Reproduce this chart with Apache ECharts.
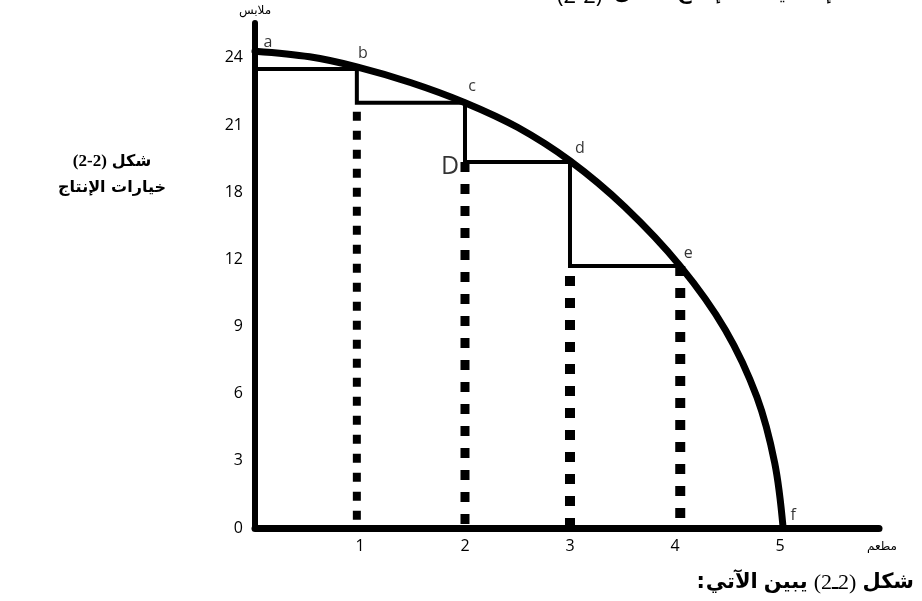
<!DOCTYPE html>
<html><head><meta charset="utf-8">
<script src="https://cdn.jsdelivr.net/npm/echarts@6/dist/echarts.min.js"></script>
<style>html,body{margin:0;padding:0;background:#fff}#c{width:922px;height:601px}</style>
</head><body><div id="c"></div>
<script>
// ---- data ----
const pointNames = ['a', 'b', 'c', 'd', 'e', 'f'];
const foodX = [0, 0.97, 2, 3, 4.05, 5.03];            // مطعم
const clothesY = [24.3, 23.5, 22, 19.35, 11.7, 0];    // ملابس
// points
const curveX = [0, 0.52, 0.97, 1.48, 2, 2.5, 3, 3.52, 4.05, 4.48, 4.78, 4.95, 5.03];
const curveY = [24.3, 24.05, 23.6, 22.9, 22.0, 20.9, 19.4, 16.7, 11.7, 8.85, 5.85, 2.9, 0];
// staircase between the points
const stepX = [0, 0.97, 0.97, 2, 2, 3, 3, 4.05];
const stepY = [23.5, 23.5, 22, 22, 19.35, 19.35, 11.7, 11.7];
// dotted drops to the horizontal axis
const dropX = [0.97, 2, 3, 4.05];
const dropTop = [22, 19.35, 11.7, 11.7];
// tick labels
const yTicks = [0, 3, 6, 9, 12, 18, 21, 24];
const xTicks = [1, 2, 3, 4, 5];

// the vertical axis places its labels evenly, so values are mapped to label slots
function toAxis(v) {
  for (let i = 0; i < yTicks.length - 1; i++) {
    if (v <= yTicks[i + 1]) return i + (v - yTicks[i]) / (yTicks[i + 1] - yTicks[i]);
  }
  const n = yTicks.length - 1;
  return n + (v - yTicks[n]) / (yTicks[n] - yTicks[n - 1]);
}

const AR = '"DejaVu Sans"';
const LAT = '"Open Sans", "DejaVu Sans", sans-serif';

// ---- text rows laid out word by word (visual left-to-right order) ----
const mctx = document.createElement('canvas').getContext('2d');
function wordRow(words, x, y, align) {
  words.forEach(w => { mctx.font = w.font; w.w = mctx.measureText(w.t).width; });
  const total = words.reduce((s, w, i) => s + w.w + (i ? (w.gap || 0) : 0), 0);
  let cx = align === 'right' ? x - total : align === 'center' ? x - total / 2 : x;
  return words.map((w, i) => {
    if (i) cx += (w.gap || 0);
    const el = { type: 'text', x: cx, y: y + (w.dy || 0), silent: true,
      style: { text: w.t, font: w.font, fill: '#000', align: 'left', verticalAlign: 'middle' } };
    cx += w.w;
    return el;
  });
}

const labelOffsets = { a: [13, -9], b: [6, -16], c: [7, -16], d: [10, -14], e: [8, -13], f: [10, -13] };

const series = [];
series.push({
  type: 'line', data: curveX.map((x, i) => [x, toAxis(curveY[i])]),
  smooth: 0.35, symbol: 'none', silent: true,
  lineStyle: { color: '#000', width: 7, cap: 'round' }, z: 5
});
series.push({
  type: 'line', data: stepX.map((x, i) => [x, toAxis(stepY[i])]),
  symbol: 'none', silent: true,
  lineStyle: { color: '#000', width: 4, join: 'miter' }, z: 4
});
const dropStyles = [
  { width: 8, type: [9, 10], dashOffset: 10 },
  { width: 9, type: [10, 12], dashOffset: 0 },
  { width: 10, type: [10, 12], dashOffset: 12 },
  { width: 10, type: [10, 12], dashOffset: 0 }
];
dropX.forEach((x, i) => {
  series.push({
    type: 'line', data: [[x, toAxis(dropTop[i])], [x, 0]],
    symbol: 'none', silent: true,
    lineStyle: Object.assign({ color: '#000', cap: 'butt' }, dropStyles[i]), z: 3
  });
});
series.push({
  type: 'scatter', symbolSize: 0, silent: true, z: 6,
  data: pointNames.map((n, i) => ({
    name: n, value: [foodX[i], toAxis(clothesY[i])],
    label: { offset: labelOffsets[n] }
  })).concat([{
    name: 'D', value: [foodX[2], toAxis(clothesY[3])],
    label: { offset: [-15, 5], fontSize: 25 }
  }]),
  label: {
    show: true, position: 'inside', formatter: p => p.name,
    color: '#000', fontFamily: LAT, fontSize: 16, align: 'center', verticalAlign: 'middle'
  }
});

const AB16 = 'bold 16px ' + AR;
const AB20 = 'bold 20px ' + AR;
const AB21 = 'bold 21px ' + AR;
const SER22 = '22px "Liberation Serif", serif';
const graphics = [
  { type: 'text', x: 255, y: 11, silent: true, style: { text: 'ملابس', font: '12px ' + AR, fill: '#000', align: 'center', verticalAlign: 'middle' } },
  { type: 'text', x: 882, y: 547, silent: true, style: { text: 'مطعم', font: '12px ' + AR, fill: '#000', align: 'center', verticalAlign: 'middle' } },
  { type: 'text', x: 112, y: 188, silent: true, style: { text: 'خيارات الإنتاج', font: AB16, fill: '#000', align: 'center', verticalAlign: 'middle' } }
].concat(
  wordRow([
    { t: '(2-2)', font: 'bold 17px "Liberation Serif", serif' },
    { t: 'شكل', font: AB16, gap: 5 }
  ], 112, 162, 'center'),
  wordRow([
    { t: '(2-2)', font: '22px ' + LAT, dy: 0 },
    { t: 'شكل', font: AB20, gap: 12, dy: -3 },
    { t: 'الإنتاج', font: AB20, gap: 14, dy: -3 },
    { t: 'إمكانيات', font: AB20, gap: 14, dy: -3 }
  ], 557, -3, 'left'),
  wordRow([
    { t: ':', font: AB21 },
    { t: 'الآتي', font: AB21, gap: 1 },
    { t: 'يبين', font: AB21, gap: 6 },
    { t: '(2', font: SER22, gap: 6 },
    { t: 'ـ', font: SER22, gap: 0 },
    { t: '2)', font: SER22, gap: 0 },
    { t: 'شكل', font: AB21, gap: 6 }
  ], 914, 583, 'right')
);

const option = {
  backgroundColor: '#fff',
  animation: false,
  grid: { left: 255, right: 43, top: 23, bottom: 73, containLabel: false },
  xAxis: {
    type: 'value', min: 0, max: 5.943, interval: 1,
    axisLine: { show: true, onZero: false, lineStyle: { color: '#000', width: 7 } },
    axisTick: { show: false }, splitLine: { show: false },
    axisLabel: {
      margin: 10, color: '#000', fontFamily: LAT, fontSize: 16,
      formatter: v => (xTicks.indexOf(v) >= 0 ? String(v) : '')
    }
  },
  yAxis: {
    type: 'value', min: 0, max: 7.52, interval: 1,
    axisLine: { show: true, onZero: false, lineStyle: { color: '#000', width: 6 } },
    axisTick: { show: false }, splitLine: { show: false },
    axisLabel: {
      margin: 12, color: '#000', fontFamily: LAT, fontSize: 16,
      formatter: v => (Number.isInteger(v) && yTicks[v] !== undefined ? String(yTicks[v]) : '')
    }
  },
  series: series,
  graphic: graphics
};
const chart = echarts.init(document.getElementById('c'), null, { renderer: 'canvas' });
chart.setOption(option);
</script></body></html>
